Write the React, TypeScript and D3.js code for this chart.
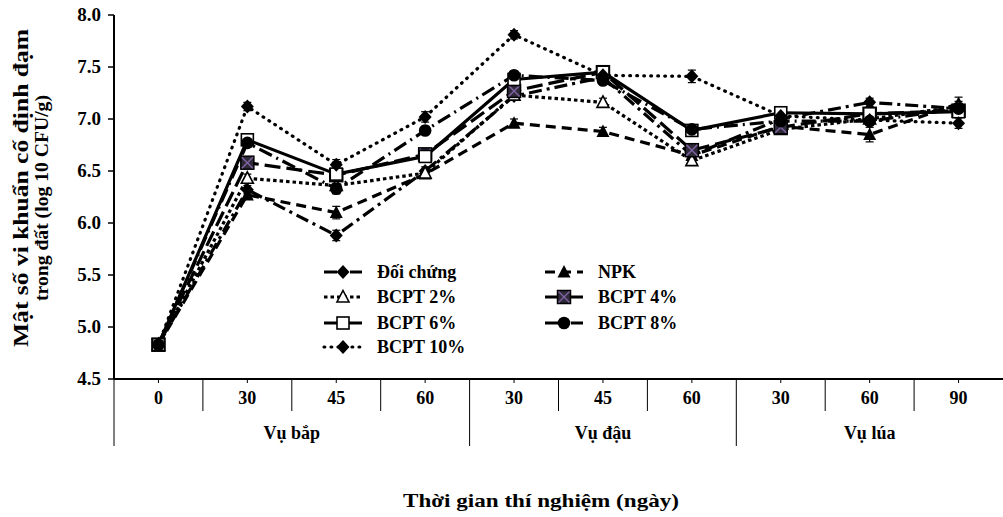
import * as d3 from "d3";
import { useEffect, useRef } from "react";

// categories on the x axis (sampling day) and the crop each belongs to
const days = ["0", "30", "45", "60", "30", "45", "60", "30", "60", "90"];
const seasons = ["Vụ bắp", "Vụ đậu", "Vụ lúa"];
const seasonSpan = [[0, 3], [4, 6], [7, 9]];
const yTicks = [4.5, 5.0, 5.5, 6.0, 6.5, 7.0, 7.5, 8.0];

// log10 CFU/g values
const doiChung = [4.83, 6.32, 5.88, 6.5, 7.22, 7.4, 6.65, 7.0, 7.16, 7.1];
const npk = [4.83, 6.27, 6.1, 6.47, 6.96, 6.88, 6.65, 6.93, 6.85, 7.15];
const bcpt2 = [4.83, 6.43, 6.36, 6.48, 7.23, 7.16, 6.6, 6.9, 7.0, 7.12];
const bcpt4 = [4.83, 6.58, 6.46, 6.66, 7.27, 7.45, 6.7, 6.92, 7.05, 7.08];
const bcpt6 = [4.83, 6.8, 6.47, 6.64, 7.38, 7.45, 6.89, 7.06, 7.05, 7.07];
const bcpt8 = [4.83, 6.77, 6.33, 6.89, 7.42, 7.37, 6.9, 6.98, 6.98, 7.1];
const bcpt10 = [4.83, 7.12, 6.56, 7.02, 7.81, 7.42, 7.41, 7.03, 6.99, 6.96];

// error bar half-heights
const errDoiChung = [0.03, 0.04, 0.05, 0.04, 0.04, 0.04, 0.04, 0.04, 0.04, 0.05];
const errNpk = [0.03, 0.04, 0.06, 0.04, 0.04, 0.04, 0.04, 0.04, 0.07, 0.06];
const errBcpt2 = [0.03, 0.04, 0.04, 0.04, 0.04, 0.04, 0.04, 0.04, 0.04, 0.05];
const errBcpt4 = [0.03, 0.04, 0.05, 0.04, 0.04, 0.04, 0.04, 0.04, 0.04, 0.05];
const errBcpt6 = [0.03, 0.04, 0.05, 0.04, 0.04, 0.04, 0.04, 0.04, 0.04, 0.05];
const errBcpt8 = [0.03, 0.04, 0.05, 0.04, 0.04, 0.04, 0.04, 0.04, 0.04, 0.05];
const errBcpt10 = [0.03, 0.04, 0.05, 0.05, 0.04, 0.04, 0.06, 0.04, 0.04, 0.05];

const series = [
  { name: "Đối chứng", values: doiChung, err: errDoiChung, dash: "13,5,3,5", cap: "butt", marker: "diamond" },
  { name: "NPK", values: npk, err: errNpk, dash: "10,6", cap: "butt", marker: "triangle" },
  { name: "BCPT 2%", values: bcpt2, err: errBcpt2, dash: "3.5,3", cap: "butt", marker: "triangleOpen" },
  { name: "BCPT 4%", values: bcpt4, err: errBcpt4, dash: "16,6", cap: "butt", marker: "xsquare" },
  { name: "BCPT 6%", values: bcpt6, err: errBcpt6, dash: null, cap: "butt", marker: "squareOpen" },
  { name: "BCPT 8%", values: bcpt8, err: errBcpt8, dash: "14,5,2,5", cap: "butt", marker: "circle" },
  { name: "BCPT 10%", values: bcpt10, err: errBcpt10, dash: "0.8,6.2", cap: "round", marker: "diamond" },
];

const FONT = "'Liberation Serif', 'Times New Roman', serif";

const drawMarker = (g: any, type: string, cx: number, cy: number) => {
  if (type === "diamond") {
    g.append("path").attr("d", `M${cx},${cy - 7}L${cx + 6.5},${cy}L${cx},${cy + 7}L${cx - 6.5},${cy}Z`).attr("fill", "#000");
  } else if (type === "triangle") {
    g.append("path").attr("d", `M${cx},${cy - 7}L${cx + 6.5},${cy + 5.5}L${cx - 6.5},${cy + 5.5}Z`).attr("fill", "#000");
  } else if (type === "triangleOpen") {
    g.append("path").attr("d", `M${cx},${cy - 6.5}L${cx + 6},${cy + 5}L${cx - 6},${cy + 5}Z`)
      .attr("fill", "#fff").attr("stroke", "#000").attr("stroke-width", 1.6);
  } else if (type === "squareOpen") {
    g.append("rect").attr("x", cx - 6).attr("y", cy - 6).attr("width", 12).attr("height", 12)
      .attr("fill", "#fff").attr("stroke", "#000").attr("stroke-width", 1.6);
  } else if (type === "circle") {
    g.append("circle").attr("cx", cx).attr("cy", cy).attr("r", 6.3).attr("fill", "#000");
  } else if (type === "xsquare") {
    g.append("rect").attr("x", cx - 6.5).attr("y", cy - 6.5).attr("width", 13).attr("height", 13)
      .attr("fill", "#2e2a3a").attr("stroke", "#000").attr("stroke-width", 1.5);
    g.append("path").attr("d", `M${cx - 5.5},${cy - 5.5}L${cx + 5.5},${cy + 5.5}M${cx + 5.5},${cy - 5.5}L${cx - 5.5},${cy + 5.5}`)
      .attr("stroke", "#8064a2").attr("stroke-width", 1.4);
  }
};

const App = () => {
  const ref = useRef<SVGSVGElement>(null);

  useEffect(() => {
    draw();
  }, []);

  const draw = () => {
    const left = 114, right = 1003, top = 15, bottom = 379;

    const svg = d3.select(ref.current);
    svg.selectAll("*").remove();

    const x = d3.scaleBand<number>().domain(d3.range(days.length)).range([left, right]);
    const cx = (i: number) => (x(i) as number) + x.bandwidth() / 2;
    const y = d3.scaleLinear().domain([4.5, 8]).range([bottom, top]);

    const bold = (sel: any, size: number) =>
      sel.attr("font-family", FONT).attr("font-weight", "bold").attr("font-size", size).attr("fill", "#000");

    // y axis
    svg.append("line").attr("x1", left).attr("x2", left).attr("y1", top).attr("y2", bottom)
      .attr("stroke", "#000").attr("stroke-width", 2);
    yTicks.forEach((t) => {
      svg.append("line").attr("x1", left - 6).attr("x2", left).attr("y1", y(t)).attr("y2", y(t))
        .attr("stroke", "#000").attr("stroke-width", 1.5);
      bold(svg.append("text").attr("x", 101).attr("y", y(t) + 6).attr("text-anchor", "end"), 19)
        .text(t.toFixed(1));
    });

    // y title (two lines)
    bold(svg.append("text").attr("transform", `translate(28,188) rotate(-90)`).attr("text-anchor", "middle")
      .attr("textLength", 318).attr("lengthAdjust", "spacingAndGlyphs"), 20)
      .text("Mật số vi khuẩn cố định đạm");
    bold(svg.append("text").attr("transform", `translate(48,198) rotate(-90)`).attr("text-anchor", "middle")
      .attr("textLength", 206).attr("lengthAdjust", "spacingAndGlyphs"), 18)
      .text("trong đất (log 10 CFU/g)");

    // x axis with category separators
    svg.append("line").attr("x1", left).attr("x2", right).attr("y1", bottom).attr("y2", bottom)
      .attr("stroke", "#000").attr("stroke-width", 2);
    const groupEdges = seasonSpan.map((s) => s[0]);
    days.forEach((_, i) => {
      const xx = x(i) as number;
      const long = groupEdges.includes(i);
      svg.append("line").attr("x1", xx).attr("x2", xx).attr("y1", bottom).attr("y2", long ? 446 : 411)
        .attr("stroke", "#000").attr("stroke-width", 1);
    });
    days.forEach((d, i) => {
      svg.append("line").attr("x1", cx(i)).attr("x2", cx(i)).attr("y1", bottom).attr("y2", bottom + 4)
        .attr("stroke", "#000").attr("stroke-width", 1);
      bold(svg.append("text").attr("x", cx(i)).attr("y", 404).attr("text-anchor", "middle"), 18).text(d);
    });
    seasons.forEach((s, k) => {
      const [a, b] = seasonSpan[k];
      const mid = ((x(a) as number) + (x(b) as number) + x.bandwidth()) / 2;
      bold(svg.append("text").attr("x", mid).attr("y", 439).attr("text-anchor", "middle"), 18).text(s);
    });

    bold(svg.append("text").attr("x", 541).attr("y", 507).attr("text-anchor", "middle")
      .attr("textLength", 276).attr("lengthAdjust", "spacingAndGlyphs"), 19)
      .text("Thời gian thí nghiệm (ngày)");

    // lines
    const line = d3.line<number>().x((_, i) => cx(i)).y((v) => y(v));
    series.forEach((s) => {
      svg.append("path").attr("d", line(s.values)).attr("fill", "none").attr("stroke", "#000")
        .attr("stroke-width", 3.2).attr("stroke-dasharray", s.dash).attr("stroke-linecap", s.cap)
        .attr("stroke-linejoin", "round");
    });
    // error bars
    series.forEach((s) => {
      s.values.forEach((v, i) => {
        const e = s.err[i];
        const g = svg.append("g").attr("stroke", "#000").attr("stroke-width", 1.2);
        g.append("line").attr("x1", cx(i)).attr("x2", cx(i)).attr("y1", y(v - e)).attr("y2", y(v + e));
        g.append("line").attr("x1", cx(i) - 4).attr("x2", cx(i) + 4).attr("y1", y(v - e)).attr("y2", y(v - e));
        g.append("line").attr("x1", cx(i) - 4).attr("x2", cx(i) + 4).attr("y1", y(v + e)).attr("y2", y(v + e));
      });
    });
    // markers
    series.forEach((s) => {
      const g = svg.append("g");
      s.values.forEach((v, i) => drawMarker(g, s.marker, cx(i), y(v)));
    });

    // legend: two columns
    const legendPos = [
      [324, 272], [545, 272],
      [324, 297], [545, 297],
      [324, 323], [545, 323],
      [324, 347],
    ];
    series.forEach((s, k) => {
      const [lx, ly] = legendPos[k];
      const g = svg.append("g");
      g.append("line").attr("x1", lx).attr("x2", lx + 38).attr("y1", ly).attr("y2", ly)
        .attr("stroke", "#000").attr("stroke-width", 3.2).attr("stroke-dasharray", s.dash)
        .attr("stroke-linecap", s.cap);
      drawMarker(g, s.marker, lx + 19, ly);
      bold(g.append("text").attr("x", lx + 53).attr("y", ly + 6), 18).text(s.name);
    });
  };

  return (
    <svg ref={ref} width={1003} height={517}
      style={{ position: "absolute", left: 0, top: 0, background: "#fff" }} />
  );
};

export default App;
